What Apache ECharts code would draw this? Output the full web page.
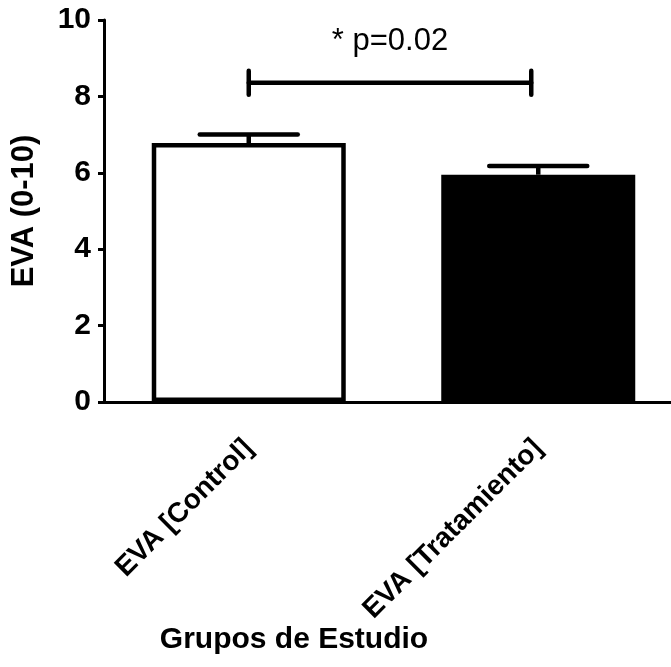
<!DOCTYPE html>
<html>
<head>
<meta charset="utf-8">
<script src="https://cdn.jsdelivr.net/npm/echarts@6/dist/echarts.min.js"></script>
<style>
  html, body { margin: 0; padding: 0; background: #fff; }
  #chart { width: 671px; height: 667px; }
</style>
</head>
<body>
<div id="chart"></div>
<script>
const categories = ['EVA [Control]', 'EVA [Tratamiento]']
const means = [6.78, 5.95]
const errors = [0.22, 0.23]
const barColors = ['#ffffff', '#000000']
const yTicks = [0, 2, 4, 6, 8, 10]
const bracketLevel = 8.36
const bracketText = '* p=0.02'

const font = 'Arial, "Liberation Sans", Helvetica, sans-serif'
const chart = echarts.init(document.getElementById('chart'))

// error bars: only the upper half shows above the bar
const errorData = means.map((m, i) => [i, m, m + errors[i]])

const option = {
  backgroundColor: '#fff',
  animation: false,
  grid: { left: 104, right: -12, top: 20, bottom: 265, outerBoundsMode: 'none', containLabel: false },
  xAxis: {
    type: 'category',
    data: categories,
    axisLine: { lineStyle: { color: '#000', width: 3 } },
    axisTick: { alignWithLabel: true, length: 12, lineStyle: { color: '#000', width: 3 } },
    axisLabel: {
      rotate: 45, margin: 42, color: '#000', fontFamily: font,
      fontWeight: 'bold', fontSize: 28
    }
  },
  yAxis: {
    type: 'value',
    min: yTicks[0],
    max: yTicks[yTicks.length - 1],
    interval: 2,
    name: 'EVA (0-10)',
    nameLocation: 'middle',
    nameGap: 64,
    nameTextStyle: { color: '#000', fontFamily: font, fontWeight: 'bold', fontSize: 31 },
    axisLine: { show: true, lineStyle: { color: '#000', width: 3 } },
    axisTick: { show: true, length: 6, lineStyle: { color: '#000', width: 3 } },
    axisLabel: { margin: 13, color: '#000', fontFamily: font, fontWeight: 'bold', fontSize: 30 },
    splitLine: { show: false }
  },
  graphic: [{
    type: 'text',
    style: {
      text: 'Grupos de Estudio', x: 294, y: 640,
      fill: '#000', font: 'bold 30px ' + font,
      textAlign: 'center', textVerticalAlign: 'middle'
    }
  }],
  series: [
    {
      type: 'bar',
      barWidth: 194,
      data: means.map((v, i) => ({
        value: v,
        itemStyle: { color: barColors[i], borderColor: '#000', borderWidth: 4.5 }
      }))
    },
    {
      type: 'custom',
      data: errorData,
      z: 3,
      renderItem: (params, api) => {
        const base = api.coord([api.value(0), api.value(1)])
        const top = api.coord([api.value(0), api.value(2)])
        const half = 49
        const style = { stroke: '#000', lineWidth: 4.5 }
        return {
          type: 'group',
          children: [
            { type: 'line', shape: { x1: base[0], y1: base[1], x2: top[0], y2: top[1] }, style },
            { type: 'line', shape: { x1: top[0] - half, y1: top[1], x2: top[0] + half, y2: top[1] }, style: { ...style, lineCap: 'round' } }
          ]
        }
      }
    },
    {
      type: 'custom',
      data: [[0, 1, bracketLevel]],
      z: 3,
      renderItem: (params, api) => {
        const a = api.coord([api.value(0), api.value(2)])
        const b = api.coord([api.value(1), api.value(2)])
        const x2 = b[0] - 7
        const h = 12
        const style = { stroke: '#000', lineWidth: 4.5, lineCap: 'round' }
        return {
          type: 'group',
          children: [
            { type: 'line', shape: { x1: a[0], y1: a[1], x2: x2, y2: a[1] }, style },
            { type: 'line', shape: { x1: a[0], y1: a[1] - h, x2: a[0], y2: a[1] + h }, style },
            { type: 'line', shape: { x1: x2, y1: a[1] - h, x2: x2, y2: a[1] + h }, style },
            {
              type: 'text',
              style: {
                text: bracketText, x: (a[0] + x2) / 2, y: a[1] - 41,
                fill: '#000', font: '31px ' + font,
                textAlign: 'center', textVerticalAlign: 'middle'
              }
            }
          ]
        }
      }
    }
  ]
}

chart.setOption(option)
</script>
</body>
</html>
